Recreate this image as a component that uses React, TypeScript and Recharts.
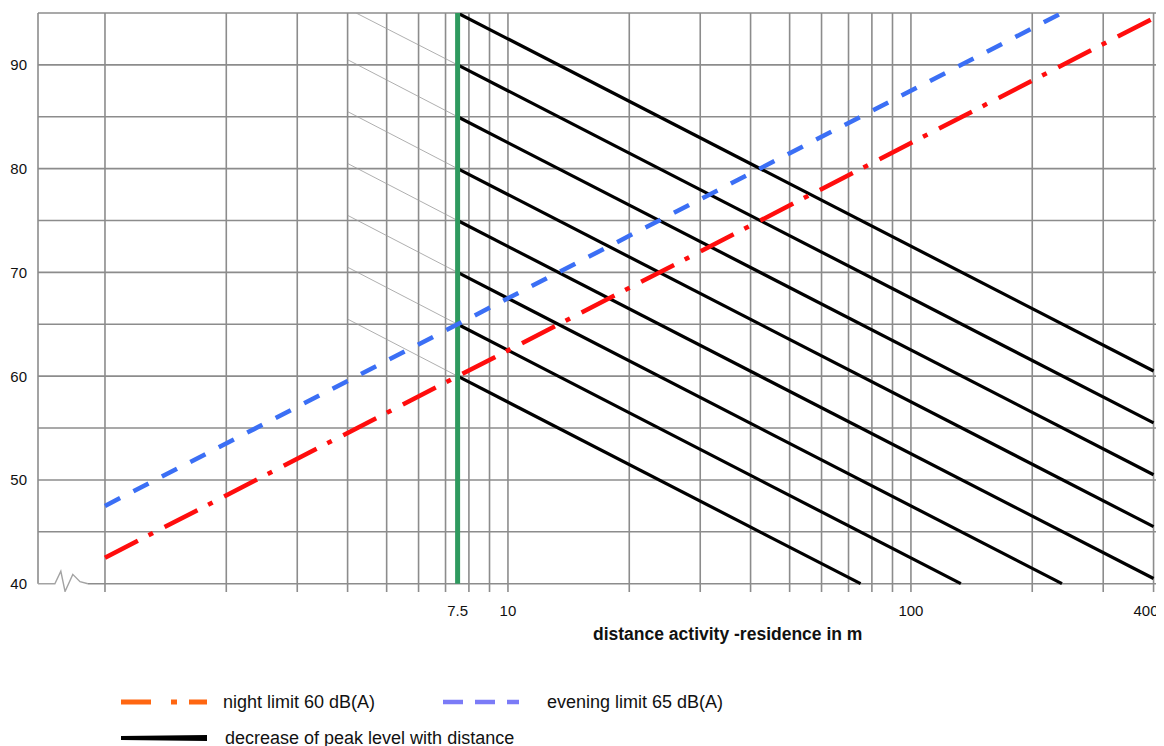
import React from "react";
import { ComposedChart, Line, XAxis, YAxis, CartesianGrid, ReferenceLine } from "recharts";

// tick labels
const distanceTicks = [7.5, 10, 100, 400];
const levelTicks = [40, 50, 60, 70, 80, 90];

// log grid
const gridDistances = [1, 2, 3, 4, 5, 6, 7, 8, 9, 10, 20, 30, 40, 50, 60, 70, 80, 90, 100, 200, 300, 400];
const gridLevels = [45, 50, 55, 60, 65, 70, 75, 80, 85, 90, 95];

// peak level lines, start at 7.5 m
const peakStartDistance = 7.5;
const peakStartLevels = [60, 65, 70, 75, 80, 85, 90, 95];
const peakEndDistances = [75, 133, 237, 400, 400, 400, 400, 400];
const peakEndLevels = [40, 40, 40, 40.5, 45.5, 50.5, 55.5, 60.5];

// thin guide lines left of 7.5 m
const guideStartDistances = [4, 4, 4, 4, 4, 4, 4.2];
const guideStartLevels = [65.5, 70.5, 75.5, 80.5, 85.5, 90.5, 95];
const guideEndLevels = [60, 65, 70, 75, 80, 85, 90];

const nightLimit = [
  { d: 1, L: 42.5 },
  { d: 400, L: 94.5 },
];
const eveningLimit = [
  { d: 1, L: 47.5 },
  { d: 237, L: 95 },
];
const referenceDistance = [
  { d: 7.5, L: 95 },
  { d: 7.5, L: 40 },
];
const axisBreak = [
  { d: 0.682, L: 40 },
  { d: 0.751, L: 40 },
  { d: 0.777, L: 41.2 },
  { d: 0.796, L: 39.25 },
  { d: 0.832, L: 40.9 },
  { d: 0.867, L: 40.2 },
  { d: 0.907, L: 40 },
];

const FONT = "'Liberation Sans', Arial, Helvetica, sans-serif";

const XTick = (props: any) => {
  const { x, y, payload } = props;
  const last = payload.value === 400;
  return (
    <text x={last ? x + 5 : x} y={y} dy="0.71em" textAnchor={last ? "end" : "middle"} fontSize={15} fill="#111" fontFamily={FONT}>
      {String(payload.value)}
    </text>
  );
};

const YTick = (props: any) => {
  const { x, y, payload } = props;
  return (
    <text x={x} y={y} dy="0.36em" textAnchor="end" fontSize={15} fill="#111" fontFamily={FONT}>
      {String(payload.value)}
    </text>
  );
};

const App = () => {
  const peakLines = peakStartLevels.map((L, i) => [
    { d: peakStartDistance, L },
    { d: peakEndDistances[i], L: peakEndLevels[i] },
  ]);
  const guideLines = guideEndLevels.map((L, i) => [
    { d: guideStartDistances[i], L: guideStartLevels[i] },
    { d: peakStartDistance, L },
  ]);

  return (
    <div style={{ position: "relative", width: 1148, height: 738, fontFamily: FONT }}>
      <ComposedChart
        width={1156}
        height={738}
        margin={{ top: 5, right: 4, bottom: 124, left: 0 }}
        style={{ fontFamily: FONT, overflow: "visible" }}
      >
        <CartesianGrid
          stroke="#8c8c8c"
          strokeWidth={1.6}
          horizontalValues={gridLevels}
          verticalValues={gridDistances}
          syncWithTicks={false}
        />
        <XAxis
          dataKey="d"
          type="number"
          scale="log"
          domain={[0.682, 415]}
          allowDataOverflow
          ticks={distanceTicks}
          tickLine={false}
          axisLine={false}
          tickSize={0}
          tickMargin={13}
          tick={<XTick />}
          interval={0}
        />
        <YAxis
          dataKey="L"
          type="number"
          domain={[39.2, 95]}
          allowDataOverflow
          ticks={levelTicks}
          tickLine={false}
          axisLine={false}
          tickSize={0}
          tickMargin={11}
          width={30}
          tick={<YTick />}
          interval={0}
        />
        <ReferenceLine
          segment={[
            { x: 0.682, y: 95 },
            { x: 0.682, y: 40 },
          ]}
          stroke="#8c8c8c"
          strokeWidth={1.6}
        />
        <ReferenceLine
          segment={[
            { x: 0.907, y: 40 },
            { x: 415, y: 40 },
          ]}
          stroke="#8c8c8c"
          strokeWidth={1.6}
        />
        <Line data={axisBreak} dataKey="L" stroke="#a3a3a3" strokeWidth={1.4} dot={false} activeDot={false} isAnimationActive={false} legendType="none" />
        {guideLines.map((pts, i) => (
          <Line key={"g" + i} data={pts} dataKey="L" stroke="#9a9a9a" strokeWidth={0.8} dot={false} activeDot={false} isAnimationActive={false} legendType="none" />
        ))}
        {peakLines.map((pts, i) => (
          <Line key={"p" + i} data={pts} dataKey="L" stroke="#000" strokeWidth={3.2} dot={false} activeDot={false} isAnimationActive={false} legendType="none" />
        ))}
        <Line data={referenceDistance} dataKey="L" stroke="#2f9a5f" strokeWidth={5} dot={false} activeDot={false} isAnimationActive={false} legendType="none" />
        <Line data={eveningLimit} dataKey="L" stroke="#3b6ff5" strokeWidth={4.5} strokeDasharray="17 15" dot={false} activeDot={false} isAnimationActive={false} legendType="none" />
        <Line data={nightLimit} dataKey="L" stroke="#ff0d0d" strokeWidth={4.5} strokeDasharray="37 12 5 13" dot={false} activeDot={false} isAnimationActive={false} legendType="none" />
      </ComposedChart>

      <div style={{ position: "absolute", left: 585, top: 616, fontSize: 17.5, fontWeight: "bold", color: "#111", whiteSpace: "pre" }}>
        distance activity -residence in m
      </div>

      <div style={{ position: "absolute", left: 113, top: 684, display: "flex", alignItems: "center", height: 20 }}>
        <svg width={86} height={8}>
          <line x1={0} y1={4} x2={86} y2={4} stroke="#ff6611" strokeWidth={5} strokeDasharray="30 20 6 12 18" />
        </svg>
        <span style={{ marginLeft: 16, fontSize: 18, color: "#111" }}>night limit 60 dB(A)</span>
      </div>
      <div style={{ position: "absolute", left: 435, top: 684, display: "flex", alignItems: "center", height: 20 }}>
        <svg width={76} height={8}>
          <line x1={0} y1={4} x2={76} y2={4} stroke="#7b7bf7" strokeWidth={4.5} strokeDasharray="20 12" />
        </svg>
        <span style={{ marginLeft: 28, fontSize: 18, color: "#111" }}>evening limit 65 dB(A)</span>
      </div>
      <div style={{ position: "absolute", left: 113, top: 720, display: "flex", alignItems: "center", height: 20 }}>
        <svg width={86} height={8}>
          <polygon points="0,2 86,1 86,7 0,6" fill="#000" />
        </svg>
        <span style={{ marginLeft: 18, fontSize: 18, color: "#111" }}>decrease of peak level with distance</span>
      </div>
    </div>
  );
};

export default App;
